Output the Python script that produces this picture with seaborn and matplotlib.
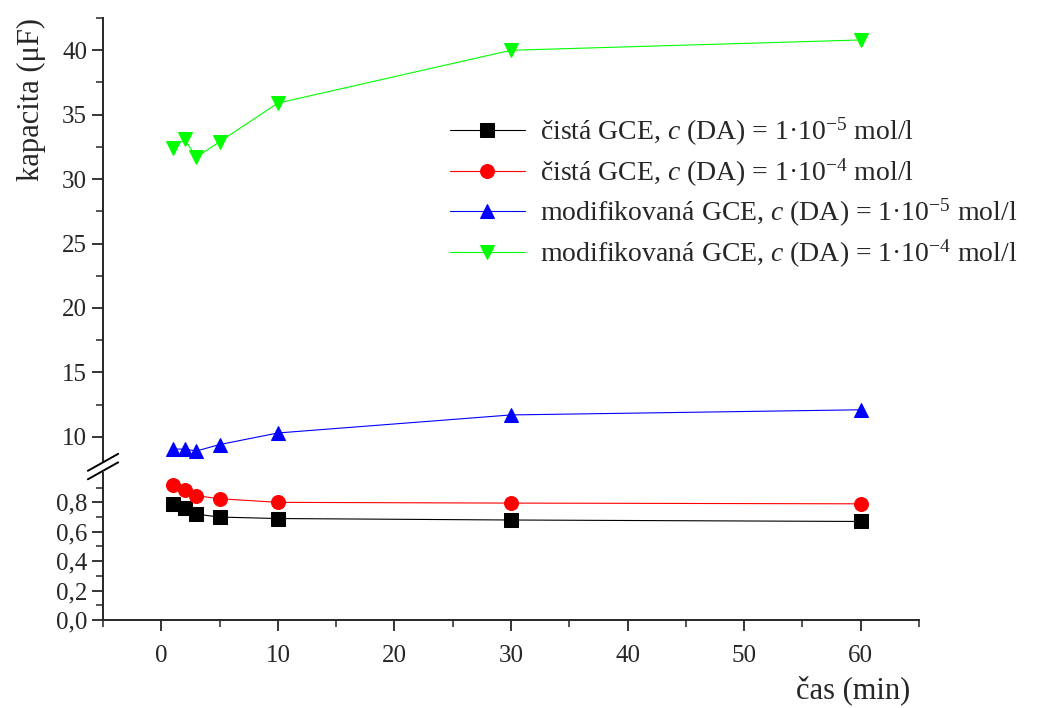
import numpy as np
import pandas as pd
import matplotlib
matplotlib.use('Agg')
import matplotlib.pyplot as plt
import seaborn as sns

# data
cas = [1, 2, 3, 5, 10, 30, 60]
ciste_e5 = [0.79, 0.76, 0.72, 0.70, 0.69, 0.68, 0.67]
ciste_e4 = [0.92, 0.885, 0.845, 0.825, 0.80, 0.795, 0.79]
modif_e5 = [9.05, 9.05, 8.9, 9.4, 10.3, 11.7, 12.1]
modif_e4 = [32.4, 33.1, 31.7, 32.9, 35.9, 40.0, 40.8]

labels = [
    r'čistá GCE, $c$ (DA) = 1·10$^{-5}$ mol/l',
    r'čistá GCE, $c$ (DA) = 1·10$^{-4}$ mol/l',
    r'modifikovaná GCE, $c$ (DA) = 1·10$^{-5}$ mol/l',
    r'modifikovaná GCE, $c$ (DA) = 1·10$^{-4}$ mol/l',
]
series = [ciste_e5, ciste_e4, modif_e5, modif_e4]
colors = ['#000000', '#ff0000', '#0000ff', '#00ff00']
markers = ['s', 'o', '^', 'v']

sns.set_style('ticks')
plt.rcParams['font.family'] = ['Liberation Serif', 'DejaVu Serif']
plt.rcParams['mathtext.fontset'] = 'custom'
plt.rcParams['mathtext.rm'] = 'Liberation Serif'
plt.rcParams['mathtext.it'] = 'Liberation Serif:italic'

fig = plt.figure(figsize=(10.46, 7.08), dpi=100)
ax_top = fig.add_axes([0.0985, 0.3475, 0.78, 0.627])
ax_bot = fig.add_axes([0.0985, 0.1243, 0.78, 0.2077])

for vals, lab, col, mk in zip(series, labels, colors, markers):
    df = pd.DataFrame({'cas': cas, 'kapacita': vals})
    for ax in (ax_top, ax_bot):
        sns.lineplot(data=df, x='cas', y='kapacita', ax=ax, color=col, marker=mk,
                     markersize=10, markeredgecolor=col, linewidth=0.8, label=lab)

for ax in (ax_top, ax_bot):
    ax.set_xlim(-5, 65)
    ax.spines['top'].set_visible(False)
    ax.spines['right'].set_visible(False)
    ax.spines['left'].set_linewidth(1.4)
    ax.spines['bottom'].set_linewidth(1.4)
    ax.set_xlabel('')
    ax.set_ylabel('')
    ax.tick_params(which='major', length=8, width=1.3, labelsize=18, direction='out')
    ax.tick_params(which='minor', length=5, width=1.1, direction='out')

ax_top.set_ylim(8.05, 42.5)
ax_top.set_yticks([10, 15, 20, 25, 30, 35, 40])
ax_top.set_yticks(np.arange(10, 42.6, 2.5), minor=True)
ax_top.spines['bottom'].set_visible(False)
ax_top.tick_params(axis='x', which='both', bottom=False, labelbottom=False)

ax_bot.set_ylim(0, 1.0)
ax_bot.set_yticks([0.0, 0.2, 0.4, 0.6, 0.8])
ax_bot.set_yticklabels(['0,0', '0,2', '0,4', '0,6', '0,8'])
ax_bot.set_yticks(np.arange(0, 0.96, 0.1), minor=True)
ax_bot.set_xticks([0, 10, 20, 30, 40, 50, 60])
ax_bot.set_xticks(np.arange(-5, 66, 5), minor=True)
ax_bot.tick_params(axis='x', which='major', pad=10)

ax_bot.get_legend().remove()
ax_top.legend(loc='upper left', bbox_to_anchor=(0.425, 0.78), frameon=False,
              fontsize=20, handlelength=2.7, labelspacing=0.3, handletextpad=0.55,
              borderpad=0, borderaxespad=0)

# break marks on the left spine
for yb in (0.335, 0.347):
    fig.add_artist(plt.Line2D([0.084, 0.113], [yb - 0.012, yb + 0.012],
                              color='black', lw=1.4, transform=fig.transFigure))

fig.text(0.03, 0.86, 'kapacita (μF)', rotation=90, fontsize=22, va='center', ha='center')
fig.text(0.87, 0.025, 'čas (min)', fontsize=22, ha='right', va='center')

fig.savefig('out.png', dpi=100)
